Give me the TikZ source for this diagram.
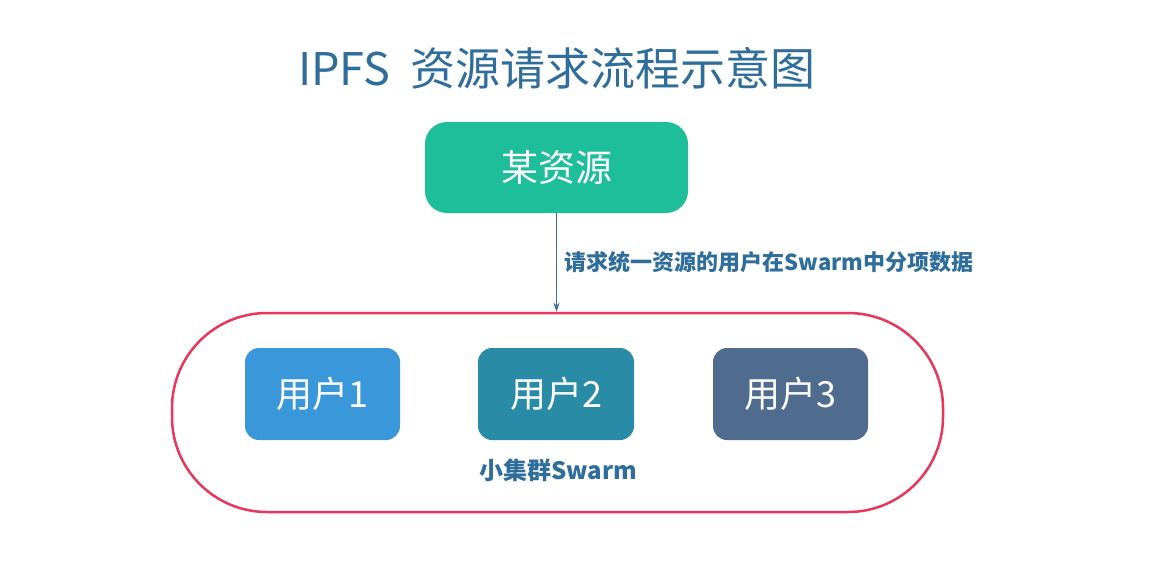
\documentclass[tikz,border=0pt]{standalone}
\usepackage{fontspec}
\setmainfont{Noto Sans CJK SC}
\usetikzlibrary{arrows.meta}
\definecolor{ttl}{HTML}{2F6D9B}
\definecolor{grn}{HTML}{1EBE9A}
\definecolor{ua}{HTML}{3A98DA}
\definecolor{ub}{HTML}{2A8BA6}
\definecolor{uc}{HTML}{4F6C8E}
\definecolor{red}{HTML}{E8375A}
\definecolor{arr}{HTML}{3B6EA3}
\begin{document}
\begin{tikzpicture}[x=1pt,y=-1pt,
 box/.style={rounded corners=14pt,text=white,font=\fontsize{36}{40}\selectfont,inner sep=0pt}]
\useasboundingbox[fill=white] (0,0) rectangle (1169,579);
\node[text=ttl,font=\fontsize{45}{50}\selectfont] (t) at (557,68) {IPFS\ \ 资源请求流程示意图};
\node[box,fill=grn,minimum width=263pt,minimum height=91pt,rounded corners=22pt,font=\fontsize{37}{40}\selectfont] (r) at (556.5,167.5) {某资源};
\node[draw=red,line width=2.5pt,rounded corners=95pt,minimum width=771pt,minimum height=199pt] (s) at (557.5,412.5) {};
\draw[arr,line width=1pt,-{Stealth[length=9pt,width=6pt]}] (r.south) -- (s.north-|r.south);
\node[anchor=west,text=ttl,font=\fontsize{22}{24}\selectfont\bfseries] (l) at (561,262) {请求统一资源的用户在Swarm中分项数据};
\node[box,fill=ua,minimum width=155pt,minimum height=92pt] (u1) at (322.5,394) {用户1};
\node[box,fill=ub,minimum width=156pt,minimum height=92pt] (u2) at (556,394) {用户2};
\node[box,fill=uc,minimum width=155pt,minimum height=92pt] (u3) at (790.5,394) {用户3};
\node[text=ttl,font=\fontsize{24}{26}\selectfont\bfseries] (sw) at (558,470) {小集群Swarm};
\end{tikzpicture}
\end{document}
